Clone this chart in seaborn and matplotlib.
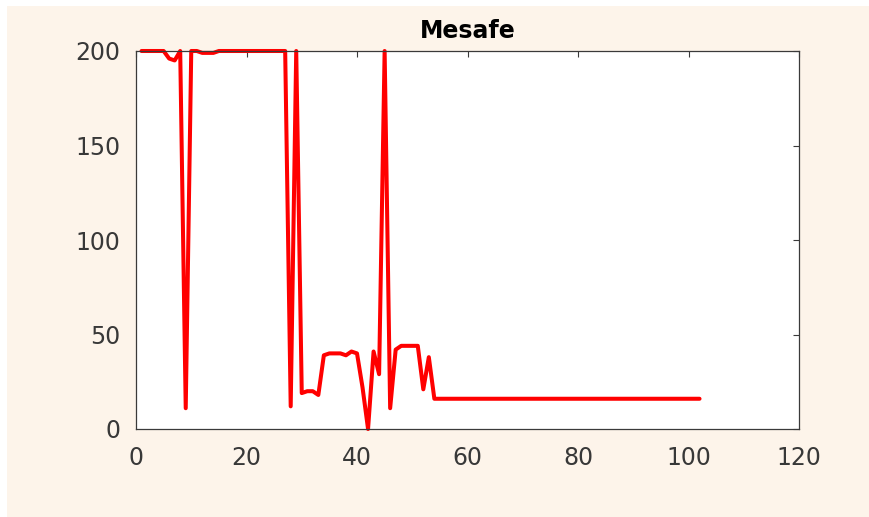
import matplotlib
matplotlib.use("Agg")
import matplotlib.pyplot as plt
import seaborn as sns
import pandas as pd
import numpy as np
from matplotlib.patches import Rectangle

sns.set_style("white")
plt.rcParams['font.family'] = ['DejaVu Sans']

# Data (sample index 1..102)
sample = list(range(1, 103))
head_values = [200, 200, 200, 200, 200, 196, 195, 200, 11, 200,
               200, 199, 199, 199, 200, 200, 200, 200, 200, 200,
               200, 200, 200, 200, 200, 200, 200, 12, 200, 19,
               20, 20, 18, 39, 40, 40, 40, 39, 41, 40,
               22, 0, 41, 29, 200, 11, 42, 44, 44, 44,
               44, 21, 38, 16]
tail_value = 16
mesafe = head_values + [tail_value] * (len(sample) - len(head_values))

x_ticks = [0, 20, 40, 60, 80, 100, 120]
y_ticks = [0, 50, 100, 150, 200]
title = "Mesafe"

df = pd.DataFrame({"sample": sample, "mesafe": mesafe})

fig = plt.figure(figsize=(8.69, 5.17), dpi=100)
fig.patch.set_facecolor("white")
fig.patches.append(Rectangle((7 / 869, 0), 1 - 7 / 869, 1 - 6 / 517,
                             transform=fig.transFigure, facecolor="#FDF4EA",
                             edgecolor="none", zorder=-10))

ax = fig.add_axes([136 / 869, 1 - 429 / 517, (799 - 136) / 869, (429 - 51) / 517])
ax.set_facecolor("white")

sns.lineplot(data=df, x="sample", y="mesafe", ax=ax, color="#FF0000",
             linewidth=2.9, clip_on=False)

ax.set_xlim(0, 120)
ax.set_ylim(0, 200)
ax.set_xticks(x_ticks)
ax.set_yticks(y_ticks)
ax.set_xlabel("")
ax.set_ylabel("")

for s in ax.spines.values():
    s.set_visible(True)
    s.set_color("#3a3a3a")
    s.set_linewidth(0.9)

ax.tick_params(axis="both", direction="in", length=4, width=0.8,
               color="#3a3a3a", labelcolor="#383838", labelsize=17,
               top=True, right=True)
ax.tick_params(axis="x", pad=12)
ax.tick_params(axis="y", pad=11)

ax.set_title(title, fontsize=17, fontweight="bold", color="black", pad=9)

fig.savefig("out.png", dpi=100, facecolor=fig.get_facecolor())
